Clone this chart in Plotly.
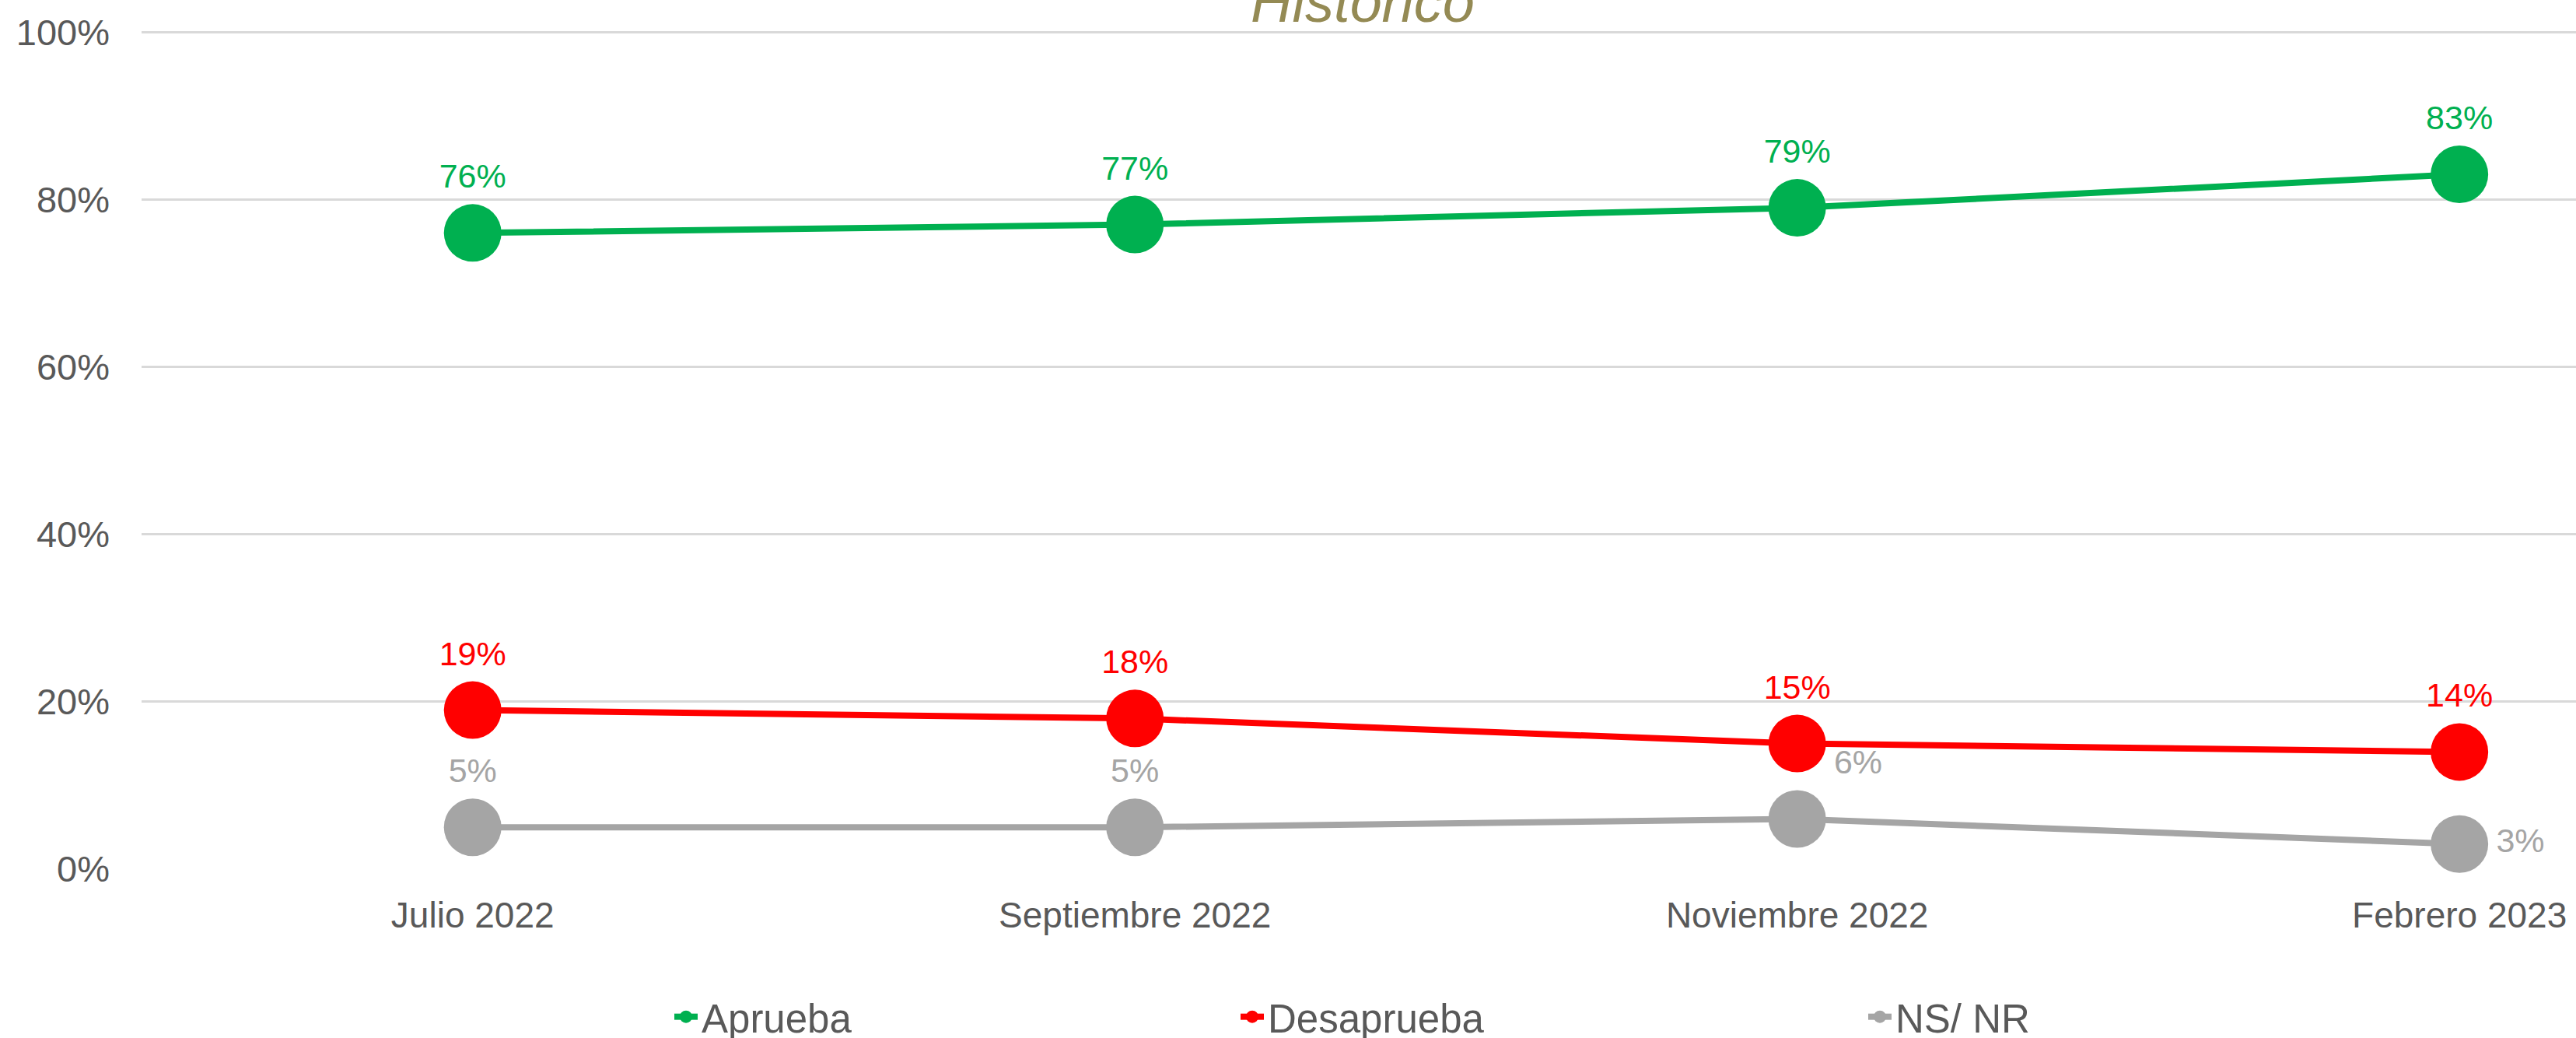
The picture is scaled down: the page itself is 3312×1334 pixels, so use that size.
import plotly.graph_objects as go

categories = ["Julio 2022", "Septiembre 2022", "Noviembre 2022", "Febrero 2023"]
aprueba = [0.76, 0.77, 0.79, 0.83]
desaprueba = [0.19, 0.18, 0.15, 0.14]
nsnr = [0.05, 0.05, 0.06, 0.03]
y_ticks = [0, 0.2, 0.4, 0.6, 0.8, 1.0]
y_ticklabels = ["0%", "20%", "40%", "60%", "80%", "100%"]

FONT = "Liberation Sans, Arial, sans-serif"
W, H = 3312, 1334
L, R, T, B = 182, 0, 39, 217
plot_w = W - L - R
plot_h = H - T - B
Y_TOP = 1.002

def px_x(p):
    return (p - L) / plot_w

def px_y(p):
    return (H - B - p) / plot_h

series = [
    ("Aprueba", aprueba, "#00B050", ["top center"] * 4, "legend"),
    ("Desaprueba", desaprueba, "#FF0000", ["top center"] * 4, "legend2"),
    ("NS/ NR", nsnr, "#A5A5A5", ["top center", "top center", "top right", "middle right"], "legend3"),
]

fig = go.Figure()
for name, vals, color, pos, leg in series:
    fig.add_trace(go.Scatter(
        x=categories, y=vals, name=name, mode="lines+markers+text",
        line=dict(color=color, width=8),
        marker=dict(color=color, size=74),
        text=[f"{round(v*100)}%" for v in vals],
        textposition=pos,
        textfont=dict(color=color, size=43, family=FONT),
        cliponaxis=False,
        legend=leg,
    ))

leg_common = dict(orientation="h", yanchor="middle", xanchor="left",
                  font=dict(size=51, color="#595959", family=FONT),
                  bgcolor="rgba(0,0,0,0)", itemsizing="trace")

fig.update_layout(
    width=W, height=H,
    margin=dict(l=L, r=R, t=T, b=B, autoexpand=False),
    paper_bgcolor="white", plot_bgcolor="white",
    font=dict(family=FONT, color="#595959"),
    showlegend=True,
    legend=dict(x=px_x(862), y=px_y(1307), **leg_common),
    legend2=dict(x=px_x(1590), y=px_y(1307), **leg_common),
    legend3=dict(x=px_x(2397), y=px_y(1307), **leg_common),
    xaxis=dict(
        type="category", range=[-0.5, 3.176],
        showgrid=False, zeroline=False, showline=False, ticks="",
        tickfont=dict(size=46, color="#595959", family=FONT),
        ticklabelstandoff=28,
    ),
    yaxis=dict(
        range=[0, Y_TOP], tickvals=y_ticks, ticktext=y_ticklabels,
        showgrid=True, gridcolor="#D9D9D9", gridwidth=3,
        zeroline=False, showline=False, ticks="",
        tickfont=dict(size=47, color="#595959", family=FONT),
        ticklabelstandoff=40,
    ),
    annotations=[dict(
        text="<i>Histórico</i>", xref="paper", yref="paper",
        x=px_x(1752), y=px_y(2), xanchor="center", yanchor="middle",
        showarrow=False, font=dict(size=74, color="#948A54", family=FONT),
    )],
)

fig.write_html("out.html", config={"displayModeBar": False},
               post_script="document.body.style.margin='0';")
